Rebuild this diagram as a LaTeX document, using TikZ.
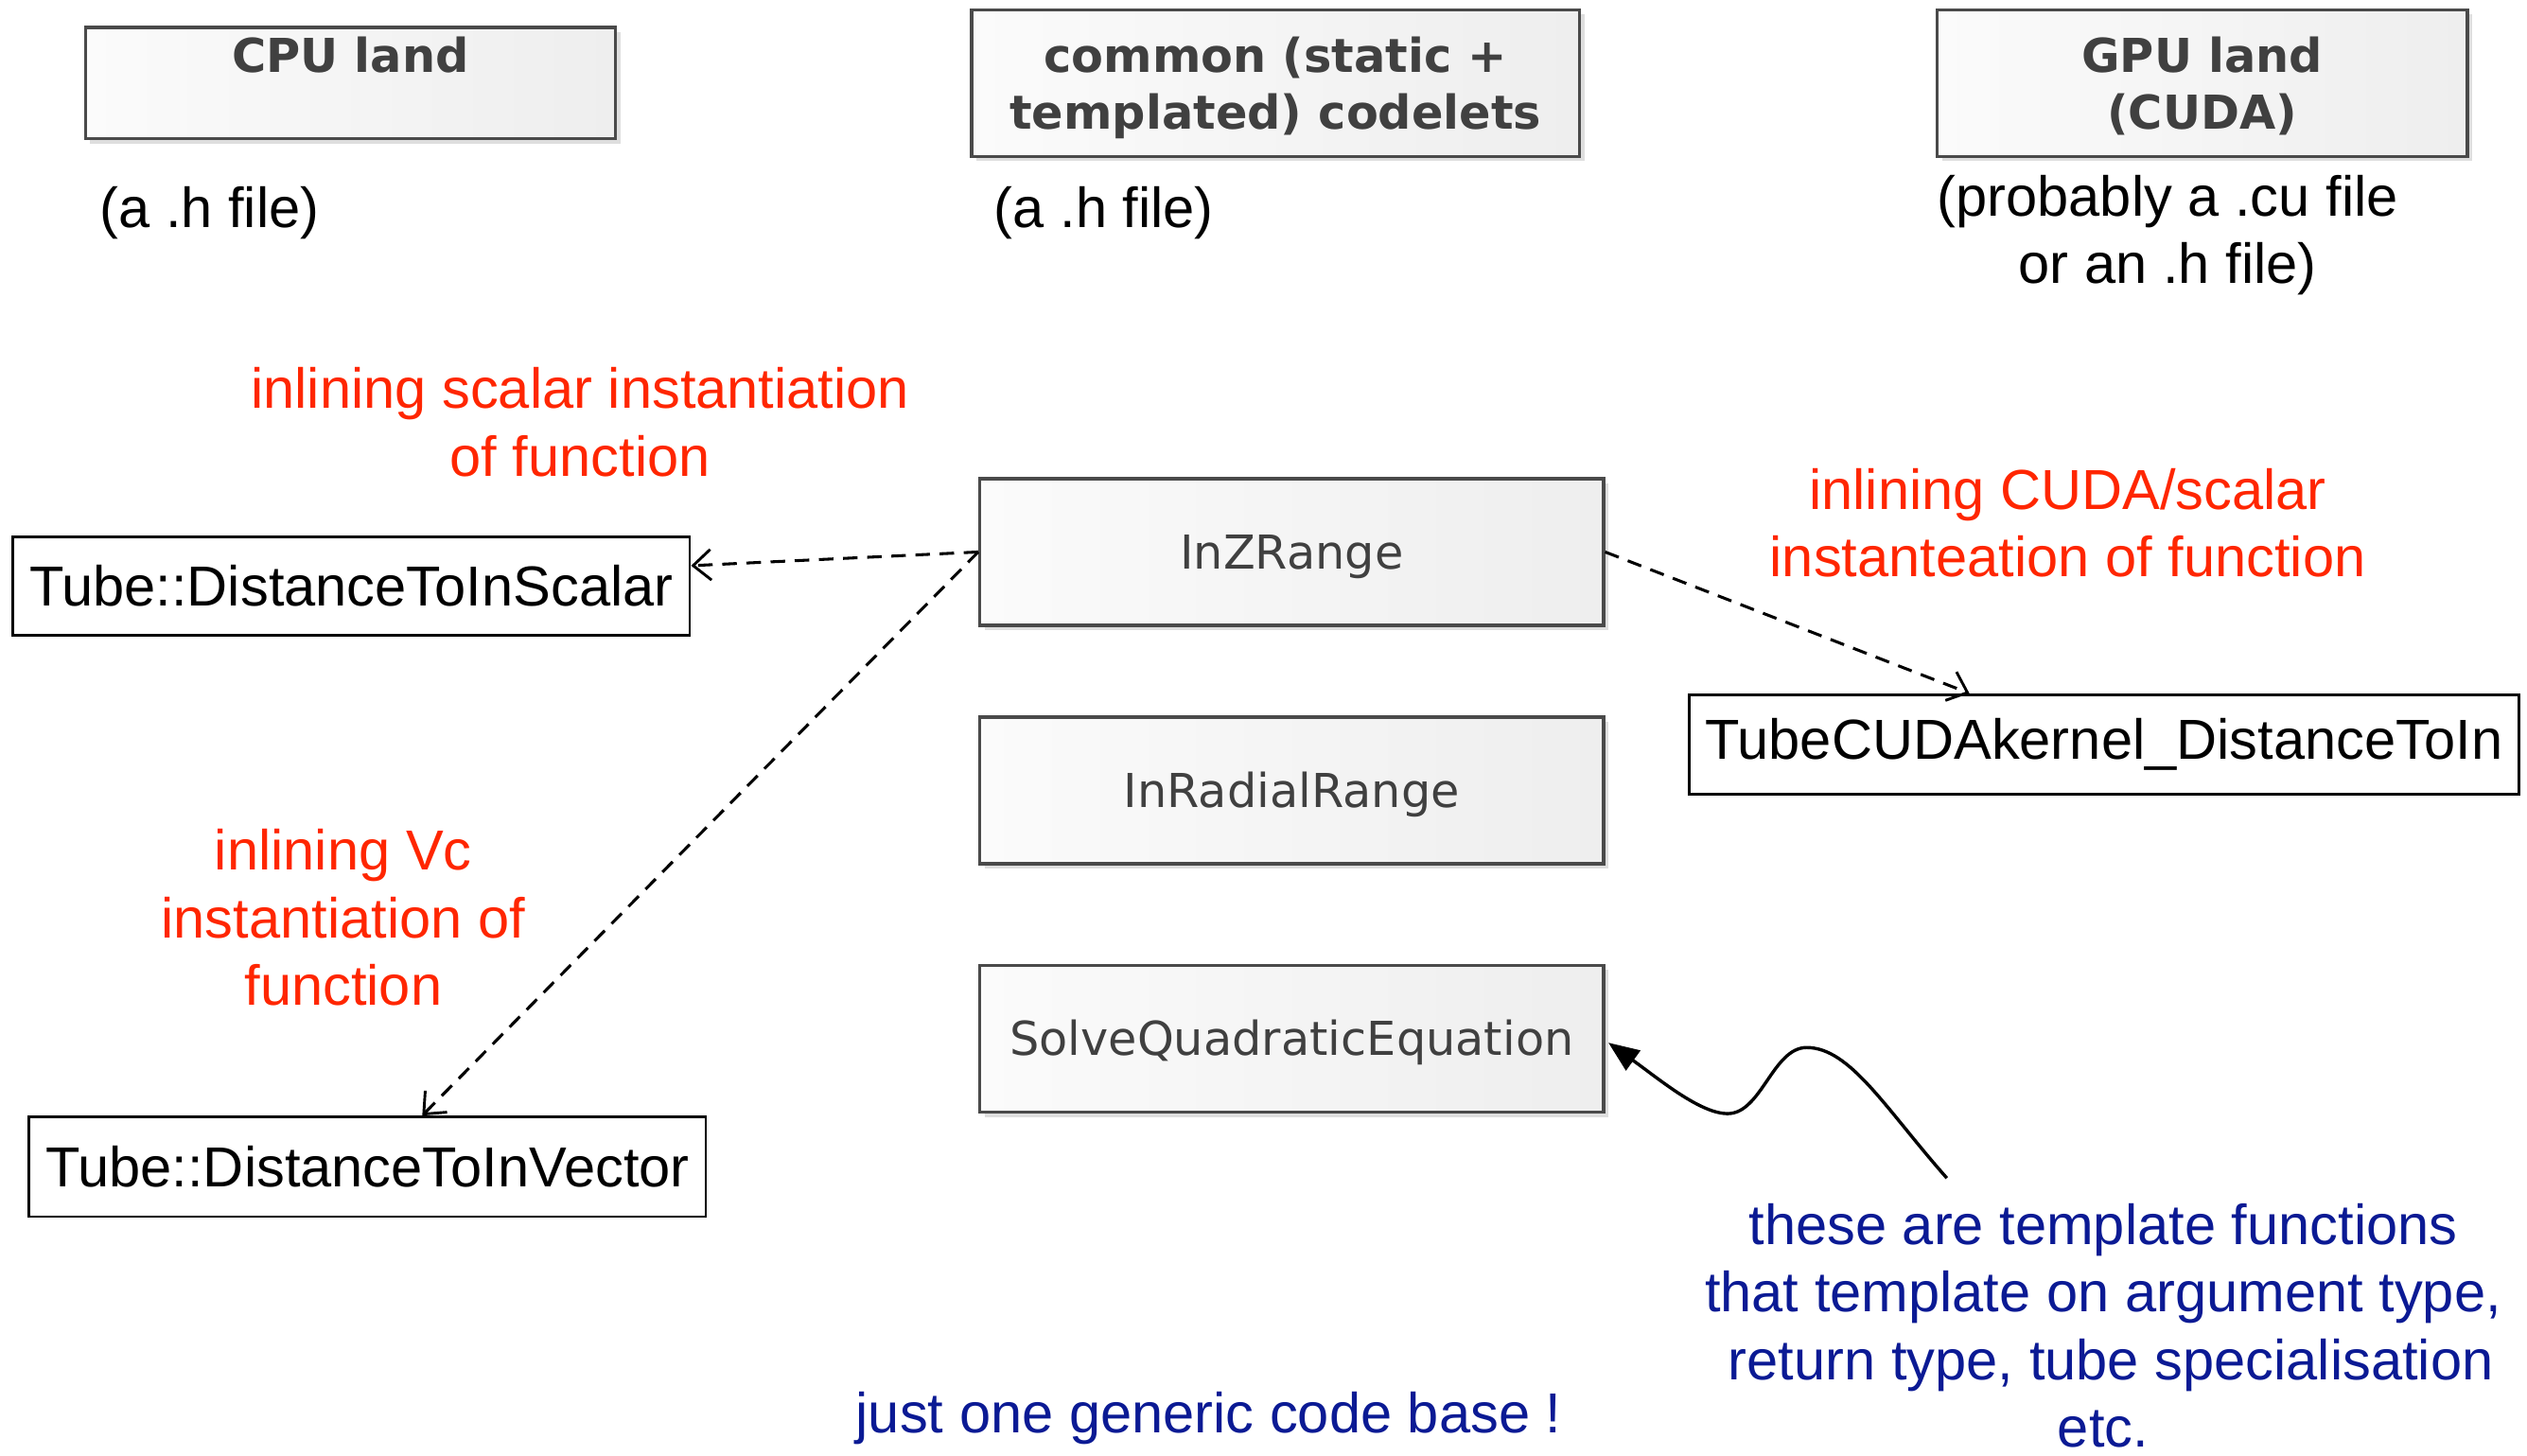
\documentclass[tikz,border=0pt]{standalone}
\usepackage{fontspec}
\setmainfont{Liberation Sans}
\newfontfamily\codefont{DejaVu Sans}
\usetikzlibrary{arrows.meta,shadows}

\definecolor{hdrtxt}{HTML}{404040}
\definecolor{boxline}{HTML}{4A4A4A}
\definecolor{shadetop}{HTML}{FBFBFB}
\definecolor{shadebot}{HTML}{EEEEEE}
\definecolor{notered}{HTML}{FF2600}
\definecolor{noteblue}{HTML}{0B1A94}

\newcommand\bodysize{\fontsize{35}{42}\selectfont}

\begin{document}
\begin{tikzpicture}[x=1pt,y=-1pt,
  softshadow/.style={drop shadow={shadow xshift=3pt,shadow yshift=-3pt,opacity=0.13,fill=black}},
  greybox/.style={draw=boxline, line width=2pt, left color=shadetop, right color=shadebot,
    inner sep=0pt, align=center, text=hdrtxt, softshadow},
  hdrbox/.style={greybox, minimum width=329pt, minimum height=91pt, text depth=0pt,
    font=\codefont\bfseries\fontsize{29}{35}\selectfont},
  codelet/.style={greybox, minimum width=387pt, minimum height=91pt,
    text height=21pt, text depth=0pt,
    font=\codefont\fontsize{29}{35}\selectfont},
  funcbox/.style={draw=black, line width=1.6pt, fill=white, inner sep=0pt,
    minimum height=62pt, font=\bodysize},
  fileinfo/.style={align=center, inner sep=0pt, font=\bodysize},
  rednote/.style={align=center, inner sep=0pt, text=notered, font=\bodysize},
  bluenote/.style={align=center, inner sep=0pt, text=noteblue, font=\bodysize},
  dep/.style={draw=black, line width=1.8pt, dash pattern=on 9pt off 6pt,
    -{Straight Barb[length=11pt,width=19pt,line width=1.7pt]}},
  pointer/.style={draw=black, line width=2pt, -{Triangle[length=19pt,width=15pt]}}
]
\useasboundingbox (0,0) rectangle (1568,903);

% column headers
\node[hdrbox, minimum height=69pt] (cpu) at (217.5,51.5) {\vphantom{(}CPU land\\\vphantom{(}};
\node[hdrbox, minimum width=377pt] (common) at (791.5,51.5) {common (static +\\templated) codelets};
\node[hdrbox] (gpu) at (1366.5,51.5) {GPU land\\(CUDA)};

% file kinds
\node[fileinfo] (cpufile) at (130,132) {(a .h file)};
\node[fileinfo] (commonfile) at (685,132) {(a .h file)};
\node[fileinfo] (gpufile) at (1345,146) {(probably a .cu file\\or an .h file)};

% shared codelets
\node[codelet] (zr) at (801.5,342.5) {InZRange};
\node[codelet] (rr) at (801.5,490.5) {InRadialRange};
\node[codelet] (sq) at (801.5,644.5) {SolveQuadraticEquation};

% instantiating functions
\node[funcbox, minimum width=420pt, minimum height=61pt] (sc) at (218,363.5) {Tube::DistanceToInScalar};
\node[funcbox, minimum width=420pt] (vec) at (228,724) {Tube::DistanceToInVector};
\node[funcbox, minimum width=515pt] (cuda) at (1305.5,462) {TubeCUDAkernel\_DistanceToIn};

% annotations
\node[rednote] (scnote) at (360,262) {inlining scalar instantiation\\of function};
\node[rednote] (cudanote) at (1283,324.5) {inlining CUDA/scalar\\instanteation of function};
\node[rednote] (vcnote) at (213,569.5) {inlining Vc\\instantiation of\\function};
\node[bluenote] (tplnote) at (1305,822.5) {these are template functions\\that template on argument type,\\\hspace*{0.278em}return type, tube specialisation\\etc.};
\node[bluenote] (basenote) at (750,880) {just one generic code base !};

% inlining dependencies
\draw[dep] (zr.west) -- ([yshift=12.5pt]sc.east);
\draw[dep] (zr.west) -- ([xshift=34pt]vec.north);
\draw[dep] (zr.east) -- ([xshift=-83.5pt]cuda.north);

% pointer from the template note
\coordinate (tail) at (1208,731);
\draw[pointer] (tail) .. controls (1170,688) and (1148,650) .. (1121,650)
  .. controls (1100,650) and (1093,691) .. (1072,691)
  .. controls (1055,691) and (1030,670) .. ([yshift=-2.5pt,xshift=2pt]sq.east);
\end{tikzpicture}
\end{document}
